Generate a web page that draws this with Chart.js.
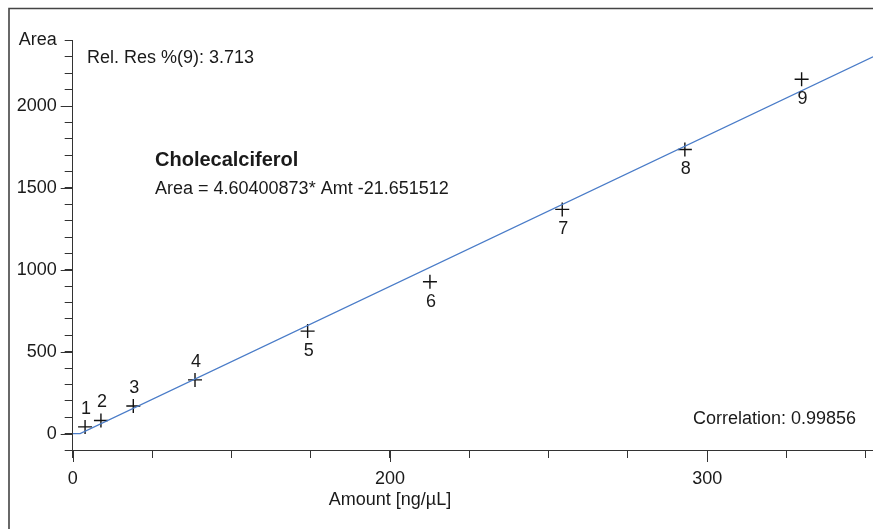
<!DOCTYPE html>
<html>
<head>
<meta charset="utf-8">
<script src="https://cdn.jsdelivr.net/npm/chart.js@4.4.0/dist/chart.umd.min.js"></script>
<style>
  html, body { margin: 0; padding: 0; background: #fff; overflow: hidden; }
  #wrap { width: 873px; height: 529px; position: relative; }
  #myChart { display: block; }
</style>
</head>
<body>
<div id="wrap"><canvas id="myChart"></canvas></div>
<script>
// calibration points
var pointIds = ['1', '2', '3', '4', '5', '6', '7', '8', '9'];
var amounts = [7.8, 17.8, 38.2, 77.1, 148.1, 225.2, 308.6, 385.9, 459.5];
var areas = [41, 80, 169, 328, 626, 927, 1369, 1735, 2163];
var labelSide = ['up', 'up', 'up', 'up', 'down', 'down', 'down', 'down', 'down'];

// fitted line as it is drawn
var fitAmt = [0, 4.7, 504.5];
var fitArea = [0, 0, 2301];

// axis labels (only these ticks carry text)
var xTickText = { 0: '0', 200: '200', 400: '300' };
var yTickText = { 0: '0', 500: '500', 1000: '1000', 1500: '1500', 2000: '2000', 2400: 'Area' };
var xMajor = [0, 200, 400];
var yMajor = [0, 500, 1000, 1500, 2000];

var titleText = 'Cholecalciferol';
var equationText = 'Area = 4.60400873* Amt -21.651512';
var relResText = 'Rel. Res %(9): 3.713';
var corrText = 'Correlation: 0.99856';
var xTitle = 'Amount [ng/µL]';

var FONT = '"Liberation Sans Narrow", "Arial Narrow", sans-serif';
var INK = '#1a1a1a';
var AXIS = '#333';

// frame, longer major ticks, point numbers and the text notes
var decorPlugin = {
  id: 'decor',
  afterDraw: function (chart) {
    var ctx = chart.ctx;
    var xs = chart.scales.x, ys = chart.scales.y;
    var area = chart.chartArea;
    ctx.save();

    // outer frame (only top + left are inside the picture)
    ctx.strokeStyle = '#444';
    ctx.lineWidth = 1.6;
    ctx.beginPath();
    ctx.moveTo(9, chart.height + 5);
    ctx.lineTo(9, 8.5);
    ctx.lineTo(chart.width + 5, 8.5);
    ctx.stroke();

    // major ticks
    ctx.strokeStyle = AXIS;
    ctx.lineWidth = 1;
    ctx.beginPath();
    yMajor.forEach(function (v) {
      var py = Math.round(ys.getPixelForValue(v)) + 0.5;
      ctx.moveTo(area.left, py);
      ctx.lineTo(area.left - 12, py);
    });
    xMajor.forEach(function (v) {
      var px = Math.round(xs.getPixelForValue(v)) + 0.5;
      ctx.moveTo(px, area.bottom);
      ctx.lineTo(px, area.bottom + 12);
    });
    ctx.stroke();

    // point numbers
    ctx.fillStyle = INK;
    ctx.font = '18px ' + FONT;
    ctx.textAlign = 'center';
    ctx.textBaseline = 'middle';
    var meta = chart.getDatasetMeta(1);
    meta.data.forEach(function (pt, i) {
      var dy = labelSide[i] === 'up' ? -18 : 20;
      ctx.fillText(pointIds[i], pt.x + 1, pt.y + dy);
    });

    // x axis title, centred under the 200 tick
    ctx.fillText(xTitle, xs.getPixelForValue(200), 500);

    // notes
    ctx.textBaseline = 'alphabetic';
    ctx.textAlign = 'left';
    ctx.fillText(relResText, 87, 63);
    ctx.fillText(equationText, 155, 194);
    ctx.font = 'bold 20px ' + FONT;
    ctx.fillText(titleText, 155, 166);
    ctx.font = '18px ' + FONT;
    ctx.textAlign = 'right';
    ctx.fillText(corrText, 856, 424);

    ctx.restore();
  }
};

var fitData = fitAmt.map(function (a, i) { return { x: a, y: fitArea[i] }; });
var pointData = amounts.map(function (a, i) { return { x: a, y: areas[i] }; });

new Chart('myChart', {
  type: 'scatter',
  data: {
    datasets: [{
      type: 'line',
      data: fitData,
      borderColor: '#4a7cc8',
      borderWidth: 1.2,
      pointRadius: 0,
      tension: 0,
      fill: false
    }, {
      data: pointData,
      pointStyle: 'cross',
      pointRadius: 7,
      pointBorderColor: '#111',
      pointBorderWidth: 1.4,
      pointHoverRadius: 7
    }]
  },
  options: {
    responsive: true,
    maintainAspectRatio: false,
    animation: false,
    layout: { autoPadding: false, padding: { top: 40.5, right: 0, bottom: 0, left: 0 } },
    plugins: { legend: { display: false }, tooltip: { enabled: false } },
    scales: {
      x: {
        type: 'linear',
        min: 0,
        max: 504.5,
        afterFit: function (s) { s.height = 79; s.paddingLeft = 0; s.paddingRight = 0; },
        border: { display: true, color: AXIS, width: 1 },
        grid: { drawOnChartArea: false, drawTicks: true, tickLength: 8, color: AXIS },
        ticks: {
          stepSize: 50,
          includeBounds: false,
          autoSkip: false,
          maxRotation: 0,
          padding: 10,
          color: INK,
          font: { family: FONT, size: 18 },
          callback: function (v) { return xTickText[v] !== undefined ? xTickText[v] : ''; }
        }
      },
      y: {
        type: 'linear',
        min: -100,
        max: 2400,
        afterFit: function (s) { s.width = 72.7; },
        border: { display: true, color: AXIS, width: 1 },
        grid: { drawOnChartArea: false, drawTicks: true, tickLength: 8, color: AXIS },
        ticks: {
          stepSize: 100,
          autoSkip: false,
          padding: 8,
          color: INK,
          font: { family: FONT, size: 18 },
          callback: function (v) { return yTickText[v] !== undefined ? yTickText[v] : ''; }
        }
      }
    }
  },
  plugins: [decorPlugin]
});
</script>
</body>
</html>
